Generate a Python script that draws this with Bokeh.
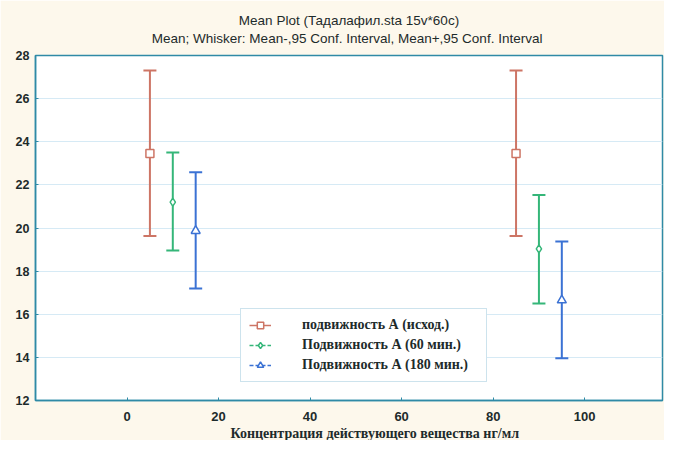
from bokeh.plotting import figure
from bokeh.models import (ColumnDataSource, Whisker, TeeHead, Legend, LegendItem,
                          FixedTicker, Title, Range1d)
from bokeh.embed import file_html
from bokeh.resources import INLINE

# ---- data ----
series_names = ["подвижность А (исход.)", "Подвижность А (60 мин.)", "Подвижность А (180 мин.)"]

x_s1 = [5, 85]
mean_s1 = [23.45, 23.45]
lo_s1 = [19.63, 19.63]
hi_s1 = [27.30, 27.30]

x_s2 = [10, 90]
mean_s2 = [21.20, 19.03]
lo_s2 = [18.96, 16.50]
hi_s2 = [23.50, 21.53]

x_s3 = [15, 95]
mean_s3 = [19.87, 16.65]
lo_s3 = [17.20, 13.96]
hi_s3 = [22.58, 19.37]

x_ticks = [0, 20, 40, 60, 80, 100]
y_ticks = [12, 14, 16, 18, 20, 22, 24, 26, 28]

title_1 = "Mean Plot (Тадалафил.sta 15v*60c)"
title_2 = "Mean;  Whisker: Mean-,95 Conf. Interval, Mean+,95 Conf. Interval"
x_label = "Концентрация действующего вещества нг/мл"

# ---- styles ----
colors = ["#cd7565", "#35b679", "#3b72d4"]
markers = ["square", "diamond", "triangle"]
msizes = [8, 8, 9]
dashes = ["solid", "4 2", "4 2"]
frame_col = "#2f8aa6"
text_col = "#1d2b2b"
nan = float("nan")

p = figure(width=664, height=440, x_range=Range1d(-20, 117), y_range=Range1d(12, 28),
           output_backend="svg", toolbar_location=None,
           background_fill_color="white", border_fill_color="#fdf8ec",
           min_border_left=35, min_border_right=2, min_border_top=55, min_border_bottom=39)
p.title.visible = False
p.outline_line_color = frame_col
p.outline_line_width = 1.5
p.xgrid.visible = False
p.ygrid.grid_line_color = "#d6eaf5"
p.ygrid.grid_line_width = 1

p.xaxis.ticker = FixedTicker(ticks=x_ticks)
p.yaxis.ticker = FixedTicker(ticks=y_ticks)
for ax in (p.xaxis, p.yaxis):
    ax.axis_line_color = frame_col
    ax.axis_line_width = 1.5
    ax.major_tick_line_color = frame_col
    ax.major_tick_in = 3
    ax.major_tick_out = 0
    ax.minor_tick_line_color = None
    ax.major_label_text_font = "Liberation Sans"
    ax.major_label_text_font_style = "bold"
    ax.major_label_text_color = text_col
p.xaxis.major_label_text_font_size = "13px"
p.yaxis.major_label_text_font_size = "12.5px"
p.xaxis.major_label_standoff = 11
p.yaxis.major_label_standoff = 6

# two-line title, lines centred
p.add_layout(Title(text=title_1 + "\n" + title_2, align="center", text_align="center",
                   text_font="Liberation Sans", text_font_style="normal",
                   text_font_size="13.5px", text_color=text_col,
                   text_line_height=1.15, vertical_align="middle", standoff=18), "above")
p.add_layout(Title(text=x_label, align="left", offset=195, text_font="Liberation Serif",
                   text_font_style="bold", text_font_size="14px", text_color=text_col,
                   text_line_height=1.0, standoff=0), "below")

xs = [x_s1, x_s2, x_s3]
means = [mean_s1, mean_s2, mean_s3]
los = [lo_s1, lo_s2, lo_s3]
his = [hi_s1, hi_s2, hi_s3]

items = []
for i in range(3):
    src = ColumnDataSource(dict(x=xs[i], mean=means[i], lo=los[i], hi=his[i]))
    w = Whisker(source=src, base="x", upper="hi", lower="lo",
                line_color=colors[i], line_width=2,
                upper_head=TeeHead(size=13, line_color=colors[i], line_width=2),
                lower_head=TeeHead(size=13, line_color=colors[i], line_width=2))
    p.add_layout(w)
    sr = p.scatter(x="x", y="mean", source=src, marker=markers[i], size=msizes[i],
                   line_color=colors[i], fill_color="white", line_width=1.5)
    # legend-only line sample (the means are not connected in the chart)
    lr = p.line(x=[nan], y=[nan], line_color=colors[i], line_width=1.5, line_dash=dashes[i])
    items.append(LegendItem(label=series_names[i], renderers=[lr, sr]))

legend = Legend(items=items, location=(205, 18), padding=8, spacing=4,
                glyph_width=22, glyph_height=16, label_standoff=31, label_width=176,
                label_text_font="Liberation Serif", label_text_font_style="bold",
                label_text_font_size="14px", label_text_color=text_col,
                border_line_color="#9cc8dc", border_line_width=1,
                background_fill_color="white", background_fill_alpha=1)
p.add_layout(legend, "center")

open("out.html", "w").write(file_html(p, INLINE))
